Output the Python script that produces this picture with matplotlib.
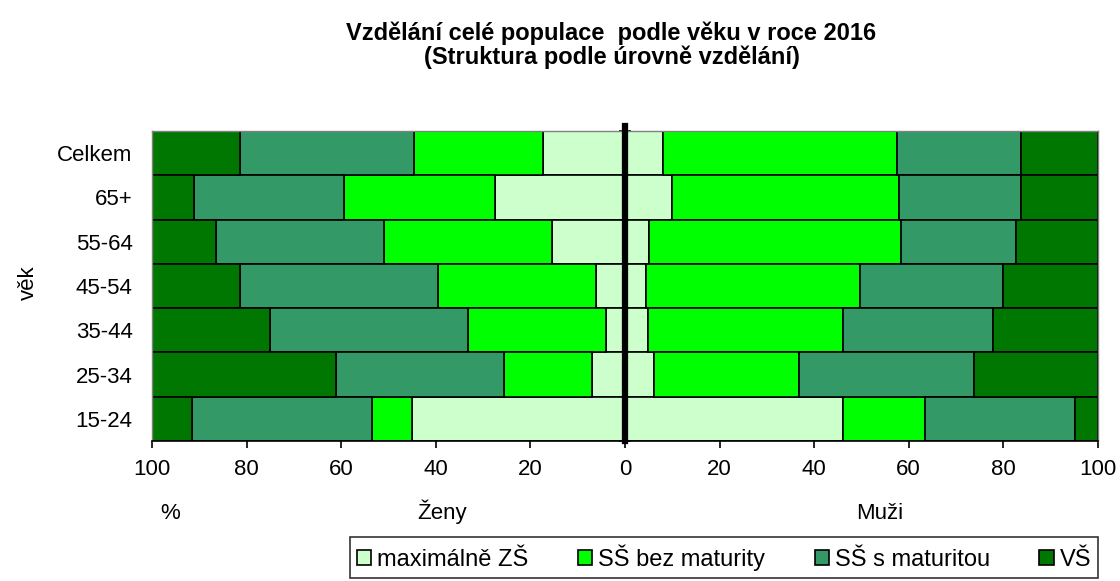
import matplotlib
matplotlib.use("Agg")
import matplotlib.pyplot as plt
import numpy as np

plt.rcParams['font.family'] = ['Liberation Sans', 'DejaVu Sans']

# kategorie shora dolů
ages = ['Celkem', '65+', '55-64', '45-54', '35-44', '25-34', '15-24']
levels = ['maximálně ZŠ', 'SŠ bez maturity', 'SŠ s maturitou', 'VŠ']
colors = ['#CCFFCC', '#00FF00', '#339966', '#007700']

# Ženy (%)
zeny_zs = [17.3, 27.4, 15.5, 6.2, 4.1, 7.0, 45.1]
zeny_bez = [27.3, 32.0, 35.4, 33.4, 29.1, 18.6, 8.4]
zeny_mat = [36.8, 31.7, 35.6, 41.8, 41.9, 35.5, 38.0]
zeny_vs = [18.6, 8.9, 13.5, 18.6, 24.9, 38.9, 8.5]

# Muži (%)
muzi_zs = [8.1, 9.9, 5.1, 4.4, 4.8, 6.1, 46.2]
muzi_bez = [49.5, 48.1, 53.3, 45.2, 41.4, 30.7, 17.3]
muzi_mat = [26.2, 25.8, 24.2, 30.4, 31.7, 36.9, 31.7]
muzi_vs = [16.2, 16.2, 17.4, 20.0, 22.1, 26.3, 4.8]

xticks = [-100, -80, -60, -40, -20, 0, 20, 40, 60, 80, 100]

FS = 16

fig = plt.figure(figsize=(11.2, 5.81), dpi=100)
ax = fig.add_axes([0.1357, 0.241, 0.8446, 0.5335])

y = np.arange(len(ages))
zeny = [zeny_zs, zeny_bez, zeny_mat, zeny_vs]
muzi = [muzi_zs, muzi_bez, muzi_mat, muzi_vs]

left_z = np.zeros(len(ages))
left_m = np.zeros(len(ages))
for i in range(4):
    vz = np.array(zeny[i])
    vm = np.array(muzi[i])
    ax.barh(y, -vz, left=-left_z, height=1.0, color=colors[i],
            edgecolor='black', linewidth=1.2, label=levels[i])
    ax.barh(y, vm, left=left_m, height=1.0, color=colors[i],
            edgecolor='black', linewidth=1.2)
    left_z += vz
    left_m += vm

ax.set_xlim(-100, 100)
ax.set_ylim(len(ages) - 0.5, -0.5)

ax.set_xticks(xticks)
ax.set_xticklabels([str(abs(t)) for t in xticks], fontsize=FS)
ax.tick_params(axis='x', direction='out', length=5, width=1.2, pad=8)

ax.set_yticks(y)
ax.set_yticklabels(ages, fontsize=FS)
ax.tick_params(axis='y', length=0, pad=14)

for s in ['left', 'top', 'right']:
    ax.spines[s].set_color('#808080')
    ax.spines[s].set_linewidth(1)
ax.spines['bottom'].set_color('black')
ax.spines['bottom'].set_linewidth(1.2)

# osa kategorií ve středu
ax.axvline(0, ymin=0, ymax=1.015, color='black', linewidth=4.5, clip_on=False, zorder=5)
sec = ax.secondary_yaxis(0.5)
sec.set_yticks(np.arange(len(ages) + 1) - 0.5)
sec.set_yticklabels([])
sec.tick_params(direction='inout', length=8, width=1.2, color='black')
sec.spines['left'].set_visible(False)

fig.text(28 / 1120, 1 - 283 / 581, 'věk', fontsize=FS, rotation=90,
         ha='center', va='center')

fig.text(170 / 1120, 1 - 519 / 581, '%', fontsize=FS, ha='center', va='baseline')
fig.text(442 / 1120, 1 - 519 / 581, 'Ženy', fontsize=FS, ha='center', va='baseline')
fig.text(880 / 1120, 1 - 519 / 581, 'Muži', fontsize=FS, ha='center', va='baseline')

fig.text(0.546, 1 - 33 / 581, 'Vzdělání celé populace  podle věku v roce 2016',
         fontsize=17, fontweight='bold', ha='center', va='center')
fig.text(0.546, 1 - 57 / 581, '(Struktura podle úrovně vzdělání)',
         fontsize=17, fontweight='bold', ha='center', va='center')

leg = fig.legend(loc='lower left',
                 bbox_to_anchor=(350 / 1120, 3 / 581, 748 / 1120, 44 / 581),
                 mode='expand', ncol=4, fontsize=17,
                 frameon=True, fancybox=False, edgecolor='black', handlelength=0.6,
                 handleheight=0.6, handletextpad=0.25, columnspacing=0.3,
                 borderpad=0.3, borderaxespad=0)
leg.get_frame().set_linewidth(1.2)

fig.savefig('out.png', dpi=100, facecolor='white')
